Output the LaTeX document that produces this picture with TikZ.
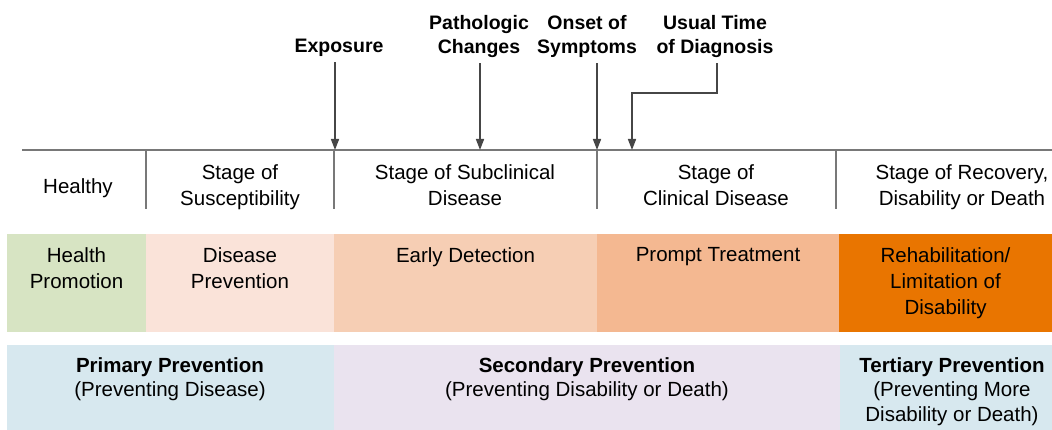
\documentclass[tikz,border=0pt]{standalone}
\usepackage{fontspec}
\setmainfont{Liberation Sans}
\usetikzlibrary{arrows.meta}
\definecolor{linegray}{RGB}{120,120,120}
\definecolor{arrowgray}{RGB}{70,70,70}
\definecolor{promo}{RGB}{215,228,195}
\definecolor{prevent}{RGB}{250,227,217}
\definecolor{detect}{RGB}{246,206,180}
\definecolor{treat}{RGB}{244,184,145}
\definecolor{rehab}{RGB}{233,117,0}
\definecolor{primblue}{RGB}{215,232,239}
\definecolor{seclav}{RGB}{234,227,239}

\begin{document}
\begin{tikzpicture}[x=1pt,y=-1pt,
    txt/.style={font=\fontsize{20.5}{26}\selectfont,align=center,inner sep=0pt,anchor=base},
    lbl/.style={font=\bfseries\fontsize{19.5}{24.5}\selectfont,align=center,inner sep=0pt,outer sep=5pt,anchor=base},
    btxt/.style={font=\fontsize{20.5}{24.5}\selectfont,align=center,inner sep=0pt,anchor=north},
    ln/.style={draw=linegray,line width=2pt},
    arr/.style={draw=arrowgray,line width=1.6pt,-{Triangle[width=8pt,length=11pt]}}]
\useasboundingbox (0,0) rectangle (1052,430);
% timeline and stage separators
\draw[ln] (22,150) -- (1052,150);
\foreach \X in {146,334,597,836}
    {\draw[ln] (\X,150) -- (\X,209);}
% events on the timeline
\node[lbl] (expo) at (339,53) {Exposure};
\node[lbl] (patho) at (479,54) {Pathologic\\Changes};
\node[lbl] (onset) at (587,54) {Onset of\\Symptoms};
\node[lbl] (diag) at (715,54) {Usual Time\\of Diagnosis};
\coordinate (t-expo) at (335,150);
\coordinate (t-patho) at (480,150);
\coordinate (t-onset) at (597,150);
\coordinate (t-diag) at (632,150);
\coordinate (k-diag) at (717,93);
\foreach \N in {expo,patho,onset}
    {\draw[arr] (\N.south -| t-\N) -- (t-\N);}
\draw[arr] (diag.south -| k-diag) -- (k-diag) -| (t-diag);
% stages
\node[txt] (S-0) at (78,194) {Healthy};
\foreach \X/\T [count=\Y] in
    {240/{Stage of\\Susceptibility},465/{Stage of Subclinical\\Disease},
     716/{Stage of\\Clinical Disease},962/{Stage of Recovery,\\Disability or Death}}
    {\node[txt] (S-\Y) at (\X,206) {\T};}
% levels of intervention
\foreach \XA/\XB/\C/\T [count=\Y] in
    {7/146/promo/{Health\\Promotion},146/334/prevent/{Disease\\Prevention},
     334/597/detect/{Early Detection},597/839/treat/{Prompt Treatment},
     839/1052/rehab/{Rehabilitation/\\Limitation of\\Disability}}
    {\fill[\C] (\XA,234) rectangle (\XB,332);
    \node[txt,anchor=north] (I-\Y) at ({(\XA+\XB)/2},247) {\T};}
% levels of prevention
\fill[primblue] (7,345) rectangle (334,432);
\fill[seclav] (334,345) rectangle (840,432);
\fill[primblue] (840,345) rectangle (1052,432);
\node[btxt] (P-1) at (170,357) {\textbf{Primary Prevention}\\(Preventing Disease)};
\node[btxt] (P-2) at (587,357) {\textbf{Secondary Prevention}\\(Preventing Disability or Death)};
\node[btxt] (P-3) at (952,357) {\textbf{Tertiary Prevention}\\(Preventing More\\Disability or Death)};
\end{tikzpicture}
\end{document}
